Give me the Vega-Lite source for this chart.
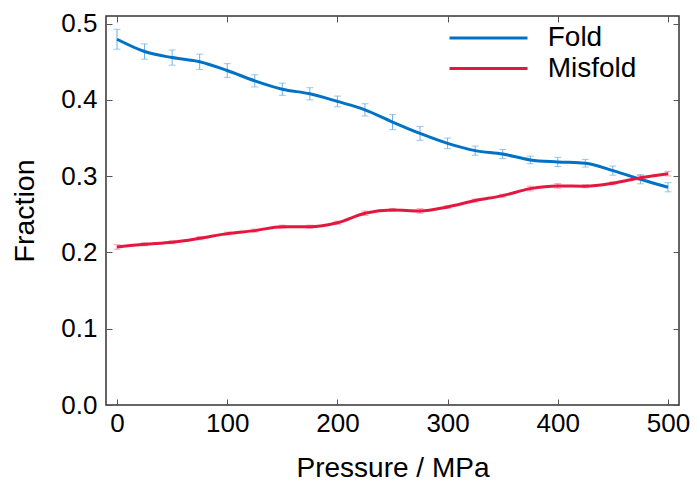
{
  "$schema": "https://vega.github.io/schema/vega-lite/v6.json",
  "width": 573,
  "height": 389,
  "autosize": "none",
  "padding": {"left": 106, "top": 16, "right": 19, "bottom": 76},
  "background": "white",
  "config": {
    "font": "Liberation Sans",
    "view": {"stroke": "#333333", "strokeWidth": 1.5},
    "axis": {"grid": false, "domain": false, "tickColor": "#555555", "tickWidth": 1, "labelColor": "black", "titleColor": "black", "titleFontWeight": "normal", "labelFlush": false, "labelOverlap": false}
  },
  "data": {
    "values": [
      {"p": 0, "s": "Fold", "f": 0.4795, "e": 0.013},
      {"p": 25, "s": "Fold", "f": 0.4634, "e": 0.010},
      {"p": 50, "s": "Fold", "f": 0.4555, "e": 0.010},
      {"p": 75, "s": "Fold", "f": 0.4500, "e": 0.010},
      {"p": 100, "s": "Fold", "f": 0.4385, "e": 0.009},
      {"p": 125, "s": "Fold", "f": 0.4250, "e": 0.008},
      {"p": 150, "s": "Fold", "f": 0.4140, "e": 0.008},
      {"p": 175, "s": "Fold", "f": 0.4080, "e": 0.008},
      {"p": 200, "s": "Fold", "f": 0.3980, "e": 0.007},
      {"p": 225, "s": "Fold", "f": 0.3870, "e": 0.008},
      {"p": 250, "s": "Fold", "f": 0.3710, "e": 0.010},
      {"p": 275, "s": "Fold", "f": 0.3560, "e": 0.009},
      {"p": 300, "s": "Fold", "f": 0.3430, "e": 0.007},
      {"p": 325, "s": "Fold", "f": 0.3335, "e": 0.006},
      {"p": 350, "s": "Fold", "f": 0.3290, "e": 0.006},
      {"p": 375, "s": "Fold", "f": 0.3213, "e": 0.005},
      {"p": 400, "s": "Fold", "f": 0.3187, "e": 0.006},
      {"p": 425, "s": "Fold", "f": 0.3170, "e": 0.005},
      {"p": 450, "s": "Fold", "f": 0.3073, "e": 0.006},
      {"p": 475, "s": "Fold", "f": 0.2960, "e": 0.006},
      {"p": 500, "s": "Fold", "f": 0.2855, "e": 0.006},
      {"p": 0, "s": "Misfold", "f": 0.2072, "e": 0.003},
      {"p": 25, "s": "Misfold", "f": 0.2107, "e": 0.002},
      {"p": 50, "s": "Misfold", "f": 0.2134, "e": 0.002},
      {"p": 75, "s": "Misfold", "f": 0.2186, "e": 0.002},
      {"p": 100, "s": "Misfold", "f": 0.2247, "e": 0.002},
      {"p": 125, "s": "Misfold", "f": 0.2286, "e": 0.002},
      {"p": 150, "s": "Misfold", "f": 0.2338, "e": 0.002},
      {"p": 175, "s": "Misfold", "f": 0.2338, "e": 0.002},
      {"p": 200, "s": "Misfold", "f": 0.2390, "e": 0.002},
      {"p": 225, "s": "Misfold", "f": 0.2514, "e": 0.003},
      {"p": 250, "s": "Misfold", "f": 0.2557, "e": 0.002},
      {"p": 275, "s": "Misfold", "f": 0.2544, "e": 0.003},
      {"p": 300, "s": "Misfold", "f": 0.2597, "e": 0.002},
      {"p": 325, "s": "Misfold", "f": 0.2680, "e": 0.002},
      {"p": 350, "s": "Misfold", "f": 0.2745, "e": 0.002},
      {"p": 375, "s": "Misfold", "f": 0.2837, "e": 0.003},
      {"p": 400, "s": "Misfold", "f": 0.2872, "e": 0.003},
      {"p": 425, "s": "Misfold", "f": 0.2868, "e": 0.002},
      {"p": 450, "s": "Misfold", "f": 0.2907, "e": 0.002},
      {"p": 475, "s": "Misfold", "f": 0.2980, "e": 0.003},
      {"p": 500, "s": "Misfold", "f": 0.3033, "e": 0.003}
    ]
  },
  "layer": [
    {
      "mark": {"type": "errorbar", "ticks": {"size": 7, "thickness": 1}, "thickness": 1},
      "encoding": {
        "x": {"field": "p", "type": "quantitative", "scale": {"domain": [-10, 510], "nice": false, "zero": false}, "axis": null},
        "y": {"field": "f", "type": "quantitative", "scale": {"domain": [0, 0.51], "nice": false}, "axis": null},
        "yError": {"field": "e"},
        "color": {"field": "s", "type": "nominal", "scale": {"domain": ["Fold", "Misfold"], "range": ["#6fb1e6", "#f2809a"]}, "legend": null}
      }
    },
    {
      "mark": {"type": "line", "strokeWidth": 3, "interpolate": "monotone"},
      "encoding": {
        "x": {"field": "p", "type": "quantitative", "scale": {"domain": [-10, 510], "nice": false, "zero": false},
          "axis": {"orient": "bottom", "values": [0, 100, 200, 300, 400, 500], "tickSize": -6, "labelPadding": 11, "labelFontSize": 26, "title": "Pressure / MPa", "titleFontSize": 28, "titlePadding": 18}},
        "y": {"field": "f", "type": "quantitative", "scale": {"domain": [0, 0.51], "nice": false},
          "axis": {"orient": "left", "values": [0, 0.1, 0.2, 0.3, 0.4, 0.5], "format": ".1f", "tickSize": -6, "labelPadding": 15, "labelFontSize": 26, "title": "Fraction", "titleFontSize": 28.5, "titlePadding": 21}},
        "color": {"field": "s", "type": "nominal", "scale": {"domain": ["Fold", "Misfold"], "range": ["#0072c6", "#e5173f"]},
          "legend": {"title": null, "orient": "none", "legendX": 367, "legendY": 6.5, "padding": 0, "symbolType": "M-2.786,0H2.786", "symbolSize": 784, "symbolStrokeWidth": 3, "labelFontSize": 28, "labelOffset": 43.7, "rowPadding": 0.5, "labelColor": "black"}}
      }
    },
    {
      "mark": {"type": "line", "opacity": 0},
      "encoding": {
        "x": {"field": "p", "type": "quantitative", "scale": {"domain": [-10, 510], "nice": false, "zero": false},
          "axis": {"orient": "top", "values": [0, 100, 200, 300, 400, 500], "tickSize": -6, "labels": false, "title": null}},
        "y": {"field": "f", "type": "quantitative", "scale": {"domain": [0, 0.51], "nice": false},
          "axis": {"orient": "right", "values": [0, 0.1, 0.2, 0.3, 0.4, 0.5], "tickSize": -6, "labels": false, "title": null}},
        "detail": {"field": "s", "type": "nominal"}
      }
    }
  ],
  "resolve": {"scale": {"color": "independent"}, "axis": {"x": "independent", "y": "independent"}}
}
